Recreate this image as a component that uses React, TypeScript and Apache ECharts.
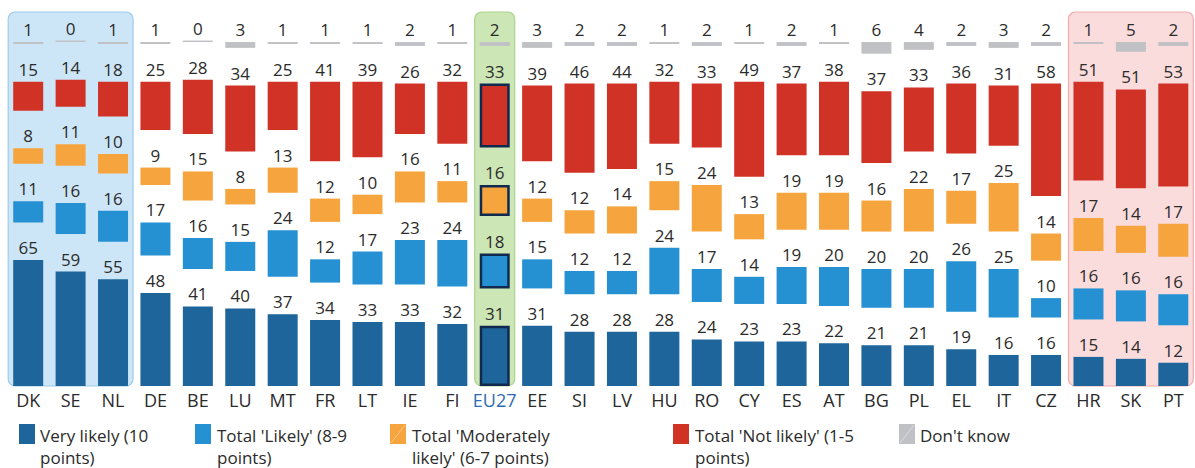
import React, { useEffect, useRef } from "react";
import * as echarts from "echarts";

const countries = ["DK","SE","NL","DE","BE","LU","MT","FR","LT","IE","FI","EU27","EE","SI","LV","HU","RO","CY","ES","AT","BG","PL","EL","IT","CZ","HR","SK","PT"];
const veryLikely = [65,59,55,48,41,40,37,34,33,33,32,31,31,28,28,28,24,23,23,22,21,21,19,16,16,15,14,12];
const likely = [11,16,16,17,16,15,24,12,17,23,24,18,15,12,12,24,17,14,19,20,20,20,26,25,10,16,16,16];
const moderately = [8,11,10,9,15,8,13,12,10,16,11,16,12,12,14,15,24,13,19,19,16,22,17,25,14,17,14,17];
const notLikely = [15,14,18,25,28,34,25,41,39,26,32,33,39,46,44,32,33,49,37,38,37,33,36,31,58,51,51,53];
const dontKnow = [1,0,1,1,0,3,1,1,1,2,1,2,3,2,2,1,2,1,2,1,6,4,2,3,2,1,5,2];

const seriesNames = ["Very likely (10 points)", "Total 'Likely' (8-9 points)", "Total 'Moderately likely' (6-7 points)", "Total 'Not likely' (1-5 points)", "Don't know"];
const legendLines = ["Very likely (10\npoints)", "Total 'Likely' (8-9\npoints)", "Total 'Moderately\nlikely' (6-7 points)", "Total 'Not likely' (1-5\npoints)", "Don't know"];

// highlight boxes: [first index, last index, group]
const boxes = [[0, 2, 0], [11, 11, 1], [25, 27, 2]];

const COLORS = ["#1d659a", "#2591d2", "#f6a53e", "#d13226", "#bfc1c4"];
const SLASH = [null, null, "#fac789", null, "#dcdddf"];
const BOX_FILL = ["#cde6f7", "#cde6b5", "#fbdcdc"];
const BOX_STROKE = ["#9ccbea", "#a9d48e", "#f2abab"];
const FONT = "'Open Sans', 'Noto Sans', sans-serif";
const TEXT = "#2b2b2b";

const GAP = 19.3;
const GREY_TOP = 177.3;
const YMAX = 196.4;
const BOX_TOP = 192.8;
const EU = countries.indexOf("EU27");

export default function App() {
  const ref = useRef<HTMLDivElement>(null);
  useEffect(() => {
    if (!ref.current) return;
    const chart = echarts.init(ref.current, null, { renderer: "svg" });
    const gap = countries.map(() => GAP);
    const spacer = countries.map((_, i) =>
      GREY_TOP - dontKnow[i] - (veryLikely[i] + likely[i] + moderately[i] + notLikely[i] + 3 * GAP));

    const label = {
      show: true,
      position: "top" as const,
      distance: 4,
      fontSize: 17,
      fontFamily: FONT,
      color: TEXT,
    };
    const mk = (name: string, vals: number[], color: string) => ({
      name,
      type: "bar",
      stack: "a",
      barWidth: 30,
      z: 3,
      data: vals.map((v, i) =>
        i === EU
          ? { value: v, itemStyle: { color, borderColor: "#10294f", borderWidth: 2.5 } }
          : { value: v }),
      itemStyle: { color },
      label,
    });
    const hidden = (vals: number[]) => ({
      type: "bar",
      stack: "a",
      barWidth: 30,
      silent: true,
      itemStyle: { color: "transparent" },
      data: vals,
    });

    const graphic: any[] = [];
    const iconX = [19, 195, 390, 673, 899];
    const textX = [40, 217, 412, 695, 920];
    legendLines.forEach((t, i) => {
      graphic.push({
        type: "rect",
        shape: { x: iconX[i], y: 424, width: 16, height: 20 },
        style: { fill: COLORS[i] },
      });
      if (SLASH[i]) {
        graphic.push({
          type: "line",
          shape: { x1: iconX[i] + 1, y1: 443, x2: iconX[i] + 15, y2: 425 },
          style: { stroke: SLASH[i], lineWidth: 1 },
        });
      }
      graphic.push({
        type: "text",
        x: textX[i],
        y: 424,
        style: {
          text: t,
          font: `17px ${FONT}`,
          lineHeight: 22,
          fill: TEXT,
          verticalAlign: "top",
        },
      });
    });

    chart.setOption({
      animation: false,
      grid: { left: 7, right: 0.5, top: 5, bottom: 82 },
      xAxis: {
        type: "category",
        data: countries.map((c, i) =>
          i === EU ? { value: c, textStyle: { color: "#2f6cb3" } } : c),
        axisLine: { show: false },
        axisTick: { show: false },
        axisLabel: { fontSize: 18, fontFamily: FONT, color: TEXT, margin: 5, interval: 0 },
      },
      yAxis: { type: "value", min: 0, max: YMAX, show: false, splitLine: { show: false } },
      graphic,
      series: [
        {
          type: "custom",
          z: 0,
          silent: true,
          data: boxes,
          renderItem: (_p: any, api: any) => {
            const bw = api.size([1, 0])[0];
            const a = api.coord([api.value(0), 0]);
            const b = api.coord([api.value(1), BOX_TOP]);
            const g = api.value(2);
            const x0 = a[0] - bw / 2 + 1.2;
            const x1 = b[0] + bw / 2 - 1.2;
            return {
              type: "rect",
              shape: { x: x0, y: b[1], width: x1 - x0, height: a[1] - b[1], r: 7 },
              style: { fill: BOX_FILL[g], stroke: BOX_STROKE[g], lineWidth: 1.2 },
            };
          },
        },
        mk(seriesNames[0], veryLikely, COLORS[0]),
        hidden(gap),
        mk(seriesNames[1], likely, COLORS[1]),
        hidden(gap),
        mk(seriesNames[2], moderately, COLORS[2]),
        hidden(gap),
        mk(seriesNames[3], notLikely, COLORS[3]),
        hidden(spacer),
        {
          name: seriesNames[4],
          type: "bar",
          stack: "a",
          barWidth: 30,
          barMinHeight: 1.5,
          z: 3,
          data: dontKnow,
          itemStyle: { color: COLORS[4] },
          label,
        },
      ],
    });
    return () => chart.dispose();
  }, []);
  return (
    <div
      ref={ref}
      style={{ position: "fixed", left: 0, top: 0, width: 1195, height: 468, background: "#fff" }}
    />
  );
}
